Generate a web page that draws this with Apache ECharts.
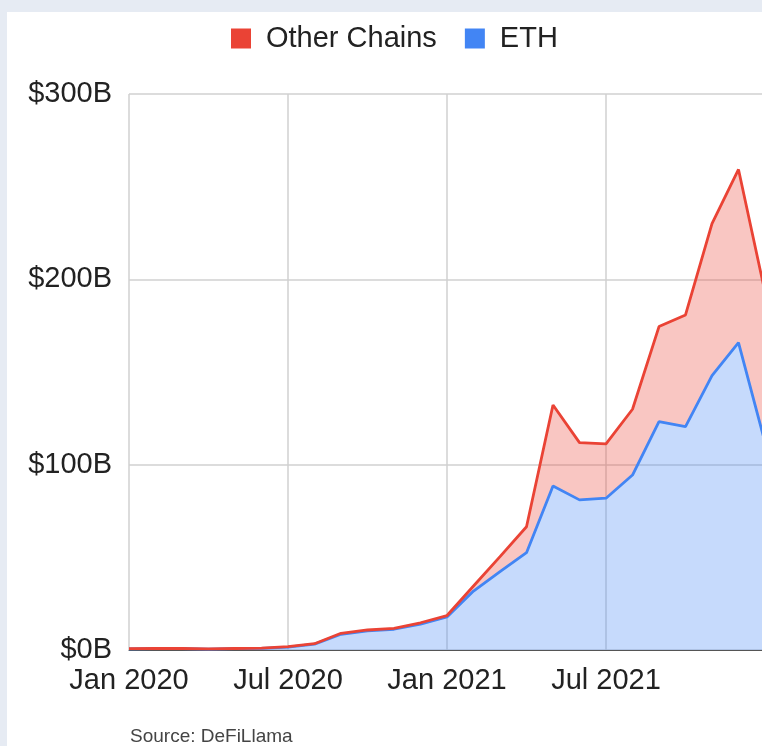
<!DOCTYPE html>
<html>
<head>
<meta charset="utf-8">
<script src="https://cdn.jsdelivr.net/npm/echarts@6/dist/echarts.min.js"></script>
<style>
  body { margin: 0; background: #e6ebf3; overflow: hidden; }
  #panel { position: absolute; left: 7px; top: 12px; right: 0; bottom: 0; background: #fff; }
  /* chart is wider than the window on purpose: the right end is cut off like the source */
  #chart { position: absolute; left: 0; top: 0; width: 820px; height: 746px; }
</style>
</head>
<body>
<div id="panel"></div>
<div id="chart"></div>
<script>
// months from Jan 2020, one point per month
var months = [
  "Jan 2020", "Feb 2020", "Mar 2020", "Apr 2020", "May 2020", "Jun 2020",
  "Jul 2020", "Aug 2020", "Sep 2020", "Oct 2020", "Nov 2020", "Dec 2020",
  "Jan 2021", "Feb 2021", "Mar 2021", "Apr 2021", "May 2021", "Jun 2021",
  "Jul 2021", "Aug 2021", "Sep 2021", "Oct 2021", "Nov 2021", "Dec 2021",
  "Jan 2022"
];
// TVL in $B
var ethTvl = [0.6, 0.7, 0.7, 0.5, 0.7, 0.9, 1.6, 3.2, 8.5, 10.3, 11.2, 14.0,
  17.8, 31.8, 42.3, 52.5, 88.5, 81.0, 81.9, 94.4, 123.2, 120.5, 148, 165.8, 112];
var otherTvl = [0.1, 0.1, 0.1, 0.1, 0.1, 0.1, 0.2, 0.2, 0.5, 0.5, 0.5, 0.7,
  0.8, 2.7, 8.1, 14.0, 43.7, 30.9, 29.3, 35.5, 51.3, 60.3, 82, 93.5, 81];
var yTicks = [0, 100, 200, 300];

var font = "'Liberation Sans', Arial, sans-serif";
var red = "#ea4335";
var blue = "#4285f4";

var chart = echarts.init(document.getElementById("chart"));

var option = {
  animation: false,
  textStyle: { fontFamily: font },
  legend: {
    data: ["Other Chains", "ETH"],
    left: 226,
    top: 19,
    itemWidth: 20,
    itemHeight: 20,
    itemGap: 28,
    icon: "rect",
    textStyle: { fontSize: 29, color: "#222", fontFamily: font, padding: [0, 0, 0, 10] },
  },
  // 820 - 765 = 55 -> last month lands just past the window edge
  grid: { left: 129, right: 55, top: 94, bottom: 96 },
  xAxis: {
    type: "category",
    data: months,
    boundaryGap: false,
    axisLine: { lineStyle: { color: "#555", width: 1 } },
    axisTick: { show: false },
    axisLabel: {
      interval: 5,
      margin: 16,
      fontSize: 29,
      color: "#222",
      fontFamily: font,
      formatter: function (val, idx) {
        return idx >= 24 ? "" : val;
      },
    },
    splitLine: { show: true, interval: 5, lineStyle: { color: "#d0d0d0", width: 1.5 } },
  },
  yAxis: {
    type: "value",
    min: yTicks[0],
    max: yTicks[yTicks.length - 1],
    interval: 100,
    axisLine: { show: false },
    axisTick: { show: false },
    axisLabel: {
      margin: 17,
      fontSize: 29,
      color: "#222",
      fontFamily: font,
      formatter: "${value}B",
    },
    splitLine: { lineStyle: { color: "#d0d0d0", width: 1.5 } },
  },
  series: [
    {
      name: "ETH",
      type: "line",
      stack: "tvl",
      data: ethTvl,
      symbol: "none",
      color: blue,
      lineStyle: { color: blue, width: 2.8 },
      areaStyle: { color: blue, opacity: 0.3 },
    },
    {
      name: "Other Chains",
      type: "line",
      stack: "tvl",
      data: otherTvl,
      symbol: "none",
      color: red,
      lineStyle: { color: red, width: 2.8 },
      areaStyle: { color: red, opacity: 0.3 },
    },
  ],
  graphic: [
    {
      type: "text",
      left: 130,
      top: 727,
      style: { text: "Source: DeFiLlama", fontSize: 19, fill: "#444", fontFamily: font },
    },
  ],
};

chart.setOption(option);
</script>
</body>
</html>
